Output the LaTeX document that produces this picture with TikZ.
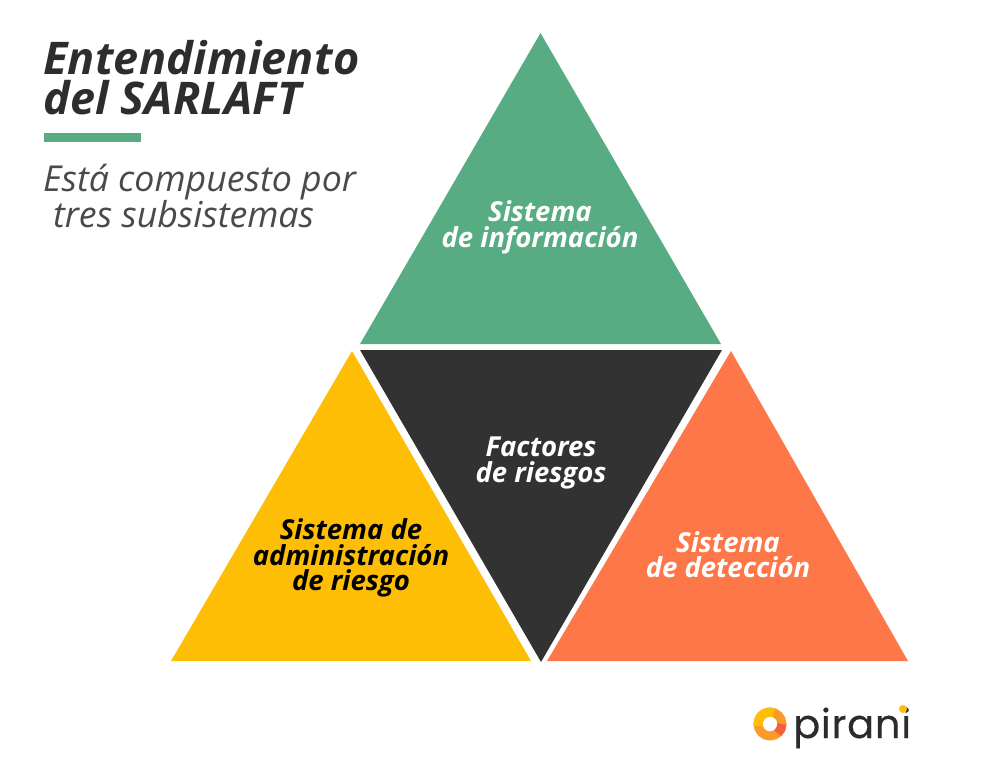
\documentclass[tikz,border=0pt]{standalone}
\usepackage{fontspec}
\setmainfont{Open Sans}
\newfontfamily\titlefont[LetterSpace=0.5]{Open Sans}
\newfontfamily\logofont[LetterSpace=1.8,FakeBold=0.3]{Poppins}
\usetikzlibrary{positioning}

\definecolor{greentri}{HTML}{58AC83}
\definecolor{darktri}{HTML}{323232}
\definecolor{yellowtri}{HTML}{FDBE05}
\definecolor{orangetri}{HTML}{FE7748}
\definecolor{titlegray}{HTML}{2D2D2D}
\definecolor{subgray}{HTML}{4A4A4A}
\definecolor{logogray}{HTML}{2B2B2B}
\definecolor{ringorange}{HTML}{FA9A2A}
\definecolor{ringred}{HTML}{F4603C}

\begin{document}
\begin{tikzpicture}[x=1pt, y=-1pt,
  every node/.style={inner sep=0pt, align=center},
  tritext/.style={font=\bfseries\itshape\fontsize{27.5}{25.5}\selectfont},
  ringarc/.style={line width=9pt},
  ]
  \useasboundingbox (0,0) rectangle (1000,770);

  % triangles
  \fill[greentri] (540.5,33) -- (721,344) -- (360,344) -- cycle;
  \fill[darktri] (360,350) -- (722,350) -- (541,662) -- cycle;
  \fill[yellowtri] (352,351) -- (531,661) -- (171,661) -- cycle;
  \fill[orangetri] (731,351) -- (908,661) -- (547,661) -- cycle;

  % heading
  \node[anchor=west, align=left, text=titlegray, font=\titlefont\bfseries\itshape\fontsize{45}{40}\selectfont] (title) at (43,78) {Entendimiento\\del SARLAFT};
  \fill[greentri] (44,133) rectangle (141,142);
  \node[anchor=west, align=left, text=subgray, font=\itshape\fontsize{35.7}{32}\selectfont] (subtitle) at (43,196) {Está compuesto por\\ \;tres subsistemas};

  % labels
  \node[tritext, text=white] (info) at (540,227.5) {Sistema\\de información};
  \node[tritext, text=white] (factores) at (541,463) {Factores\\de riesgos};
  \node[tritext, text=black] (admin) at (351,558) {Sistema de\\administración\\de riesgo};
  \node[tritext, text=white] (deteccion) at (728,554.5) {Sistema\\de detección};

  % logo
  \draw[ringarc, ringorange] (770,724) circle (12pt);
  \draw[ringarc, yellowtri] (770,724) ++(170:12) arc (170:290:12);
  \draw[ringarc, ringred] (770,724) ++(50:12) arc (50:0:12);
  \node[anchor=base west, text=logogray, font=\logofont\fontsize{40}{40}\selectfont] (logo) at (793,738) {pirani};
  \fill[yellowtri] (903,709) circle (4pt);
\end{tikzpicture}
\end{document}
